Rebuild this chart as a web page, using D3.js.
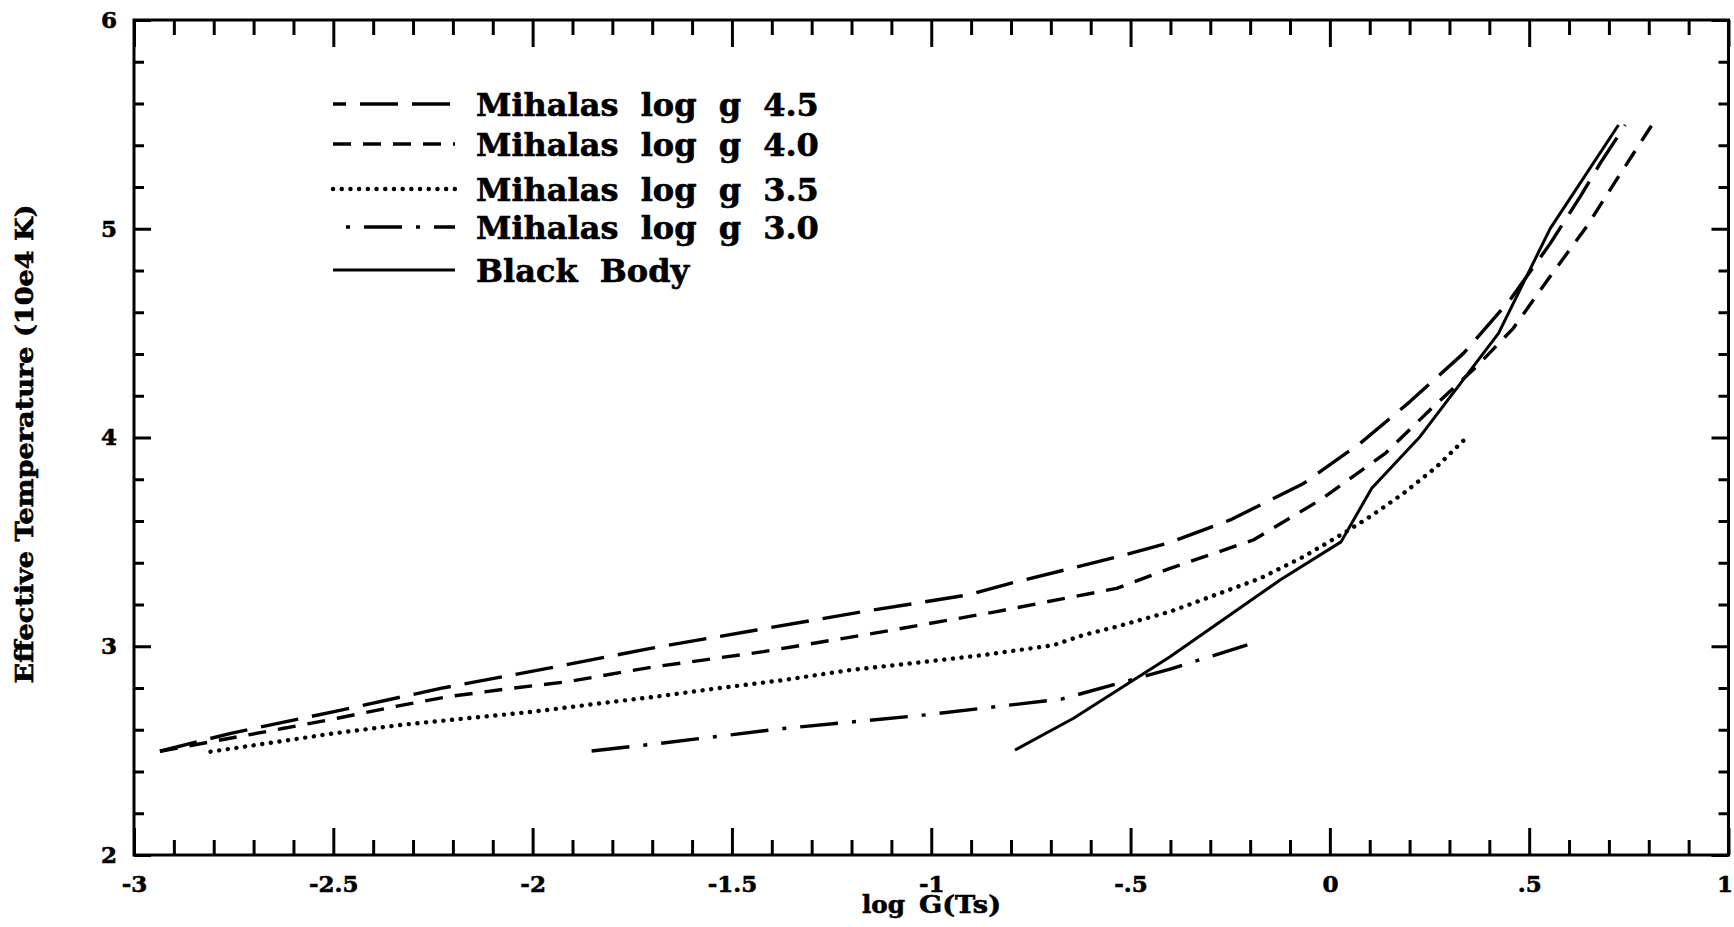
<!DOCTYPE html>
<html>
<head>
<meta charset="utf-8">
<script src="https://cdn.jsdelivr.net/npm/d3@7"></script>
<style>
  html, body { margin: 0; padding: 0; background: #fff; }
  svg { display: block; }
  text { font-family: "DejaVu Serif", serif; font-weight: bold; fill: #000; stroke: #000; stroke-width: 0.6px; }
</style>
</head>
<body>
<svg id="chart" width="1734" height="927"></svg>
<script>
// Effective temperature (10^4 K) against log G(Ts) for Mihalas model atmospheres and a black body.

const xMajorTicks = [-3, -2.5, -2, -1.5, -1, -0.5, 0, 0.5, 1];
const xTickLabels = ["-3", "-2.5", "-2", "-1.5", "-1", "-.5", "0", ".5", "1"];
const yMajorTicks = [2, 3, 4, 5, 6];
const yTickLabels = ["2", "3", "4", "5", "6"];

const seriesNames = [
  "Mihalas log g 4.5",
  "Mihalas log g 4.0",
  "Mihalas log g 3.5",
  "Mihalas log g 3.0",
  "Black Body"
];

// Mihalas log g 4.5
const g45LogG = [-2.935, -2.757, -2.498, -2.231, -1.963, -1.704, -1.438, -1.170, -0.911, -0.786, -0.660, -0.526, -0.401, -0.250, -0.150, -0.066, 0.076, 0.201, 0.335, 0.452, 0.553, 0.628, 0.678, 0.741];
const g45Teff = [2.497, 2.583, 2.687, 2.798, 2.894, 2.990, 3.078, 3.166, 3.245, 3.309, 3.368, 3.432, 3.497, 3.605, 3.700, 3.780, 3.972, 4.172, 4.403, 4.659, 4.930, 5.154, 5.313, 5.497];

// Mihalas log g 4.0
const g40LogG = [-2.935, -2.783, -2.624, -2.490, -2.348, -2.214, -2.055, -1.913, -1.704, -1.421, -1.120, -0.836, -0.685, -0.535, -0.401, -0.192, -0.025, 0.139, 0.251, 0.368, 0.460, 0.552, 0.644, 0.724, 0.808];
const g40Teff = [2.497, 2.551, 2.607, 2.655, 2.710, 2.758, 2.798, 2.830, 2.899, 2.974, 3.070, 3.166, 3.222, 3.277, 3.373, 3.509, 3.700, 3.924, 4.132, 4.340, 4.523, 4.770, 5.010, 5.250, 5.497];

// Mihalas log g 3.5
const g35LogG = [-2.808, -2.666, -2.498, -2.331, -2.164, -1.996, -1.829, -1.693, -1.538, -1.371, -1.204, -1.036, -0.869, -0.694, -0.618, -0.535, -0.401, -0.175, -0.066, 0.034, 0.101, 0.185, 0.268, 0.335];
const g35Teff = [2.495, 2.535, 2.583, 2.623, 2.655, 2.687, 2.727, 2.758, 2.798, 2.838, 2.886, 2.921, 2.958, 3.005, 3.054, 3.094, 3.166, 3.325, 3.429, 3.541, 3.621, 3.733, 3.860, 3.985];

// Mihalas log g 3.0
const g30LogG = [-1.852, -1.680, -1.371, -1.020, -0.673, -0.535, -0.401, -0.207];
const g30Teff = [2.498, 2.535, 2.606, 2.670, 2.747, 2.820, 2.890, 3.007];

// Black body
const bbLogG = [-0.790, -0.643, -0.401, -0.125, 0.028, 0.105, 0.226, 0.423, 0.553, 0.724];
const bbTeff = [2.503, 2.655, 2.950, 3.317, 3.500, 3.757, 4.004, 4.499, 5.002, 5.497];

const svg = d3.select("#chart");

const plotLeft = 134, plotRight = 1728.5, plotTop = 20, plotBottom = 855;
const x = d3.scaleLinear().domain([-3, 1]).range([plotLeft, plotRight]);
const y = d3.scaleLinear().domain([2, 6]).range([plotBottom, plotTop]);

const xMinor = d3.range(-30, 11).filter(i => i % 5 !== 0).map(i => i / 10);
const yMinor = d3.range(10, 31).filter(i => i % 5 !== 0).map(i => i / 5);

function styleAxis(g) {
  g.select(".domain").remove();
  g.selectAll(".tick line").attr("stroke", "#000").attr("stroke-width", 3);
}

// bottom axis
svg.append("g").attr("transform", `translate(0,${plotBottom})`)
  .call(d3.axisBottom(x).tickValues(xMinor).tickSize(-15).tickFormat(""))
  .call(styleAxis);
const xAxisMajor = svg.append("g").attr("transform", `translate(0,${plotBottom})`)
  .call(d3.axisBottom(x).tickValues(xMajorTicks).tickSize(-27).tickPadding(21)
    .tickFormat((d, i) => xTickLabels[i]))
  .attr("font-size", 23)
  .call(styleAxis);
// keep the last label inside the page edge
xAxisMajor.selectAll(".tick text").filter(d => d === 1).attr("dx", -4);

// top axis
svg.append("g").attr("transform", `translate(0,${plotTop})`)
  .call(d3.axisTop(x).tickValues(xMinor).tickSize(-15).tickFormat(""))
  .call(styleAxis);
svg.append("g").attr("transform", `translate(0,${plotTop})`)
  .call(d3.axisTop(x).tickValues(xMajorTicks).tickSize(-27).tickFormat(""))
  .call(styleAxis);

// left axis
svg.append("g").attr("transform", `translate(${plotLeft},0)`)
  .call(d3.axisLeft(y).tickValues(yMinor).tickSize(-10).tickFormat(""))
  .call(styleAxis);
svg.append("g").attr("transform", `translate(${plotLeft},0)`)
  .call(d3.axisLeft(y).tickValues(yMajorTicks).tickSize(-17).tickPadding(17)
    .tickFormat((d, i) => yTickLabels[i]))
  .attr("font-size", 23)
  .call(styleAxis);

// right axis
svg.append("g").attr("transform", `translate(${plotRight},0)`)
  .call(d3.axisRight(y).tickValues(yMinor).tickSize(-10).tickFormat(""))
  .call(styleAxis);
svg.append("g").attr("transform", `translate(${plotRight},0)`)
  .call(d3.axisRight(y).tickValues(yMajorTicks).tickSize(-17).tickFormat(""))
  .call(styleAxis);

// frame
svg.append("rect")
  .attr("x", plotLeft).attr("y", plotTop)
  .attr("width", plotRight - plotLeft).attr("height", plotBottom - plotTop)
  .attr("fill", "none").attr("stroke", "#000").attr("stroke-width", 3);

// curves
const series = [
  { xs: g45LogG, ys: g45Teff, dash: "38,14", width: 3.4, cap: "butt", legendOffset: 25 },
  { xs: g40LogG, ys: g40Teff, dash: "18,12", width: 3.4, cap: "butt", legendOffset: 0 },
  { xs: g35LogG, ys: g35Teff, dash: "0.1,8.6", width: 4.4, cap: "round", legendOffset: 0 },
  { xs: g30LogG, ys: g30Teff, dash: "38,14,4,14", width: 3.4, cap: "butt", legendOffset: 39 },
  { xs: bbLogG, ys: bbTeff, dash: null, width: 3.0, cap: "butt", legendOffset: 0 }
];

const line = d3.line().x(d => x(d[0])).y(d => y(d[1]));

series.forEach(s => {
  svg.append("path")
    .datum(d3.zip(s.xs, s.ys))
    .attr("d", line)
    .attr("fill", "none")
    .attr("stroke", "#000")
    .attr("stroke-width", s.width)
    .attr("stroke-linecap", s.cap)
    .attr("stroke-linejoin", "round")
    .attr("stroke-dasharray", s.dash);
});

// legend
const legendRowY = [104, 144, 189, 227, 270];
const legend = svg.append("g");
series.forEach((s, i) => {
  legend.append("line")
    .attr("x1", 333).attr("x2", 455)
    .attr("y1", legendRowY[i]).attr("y2", legendRowY[i])
    .attr("stroke", "#000")
    .attr("stroke-width", s.width)
    .attr("stroke-linecap", s.cap)
    .attr("stroke-dasharray", s.dash)
    .attr("stroke-dashoffset", s.legendOffset);
  legend.append("text")
    .attr("x", 476).attr("y", legendRowY[i] + 12)
    .attr("font-size", 32)
    .style("word-spacing", "11px")
    .text(seriesNames[i]);
});

// axis titles
svg.append("text")
  .attr("transform", "translate(33,444) rotate(-90)")
  .attr("text-anchor", "middle")
  .attr("font-size", 24)
  .attr("textLength", 479)
  .attr("lengthAdjust", "spacingAndGlyphs")
  .text("Effective Temperature (10e4 K)");

const xTitle = svg.append("g").attr("font-size", 25);
xTitle.append("text").attr("x", 862).attr("y", 913)
  .attr("textLength", 43).attr("lengthAdjust", "spacingAndGlyphs").text("log");
xTitle.append("text").attr("x", 919).attr("y", 913)
  .attr("textLength", 82).attr("lengthAdjust", "spacingAndGlyphs").text("G(Ts)");
</script>
</body>
</html>
